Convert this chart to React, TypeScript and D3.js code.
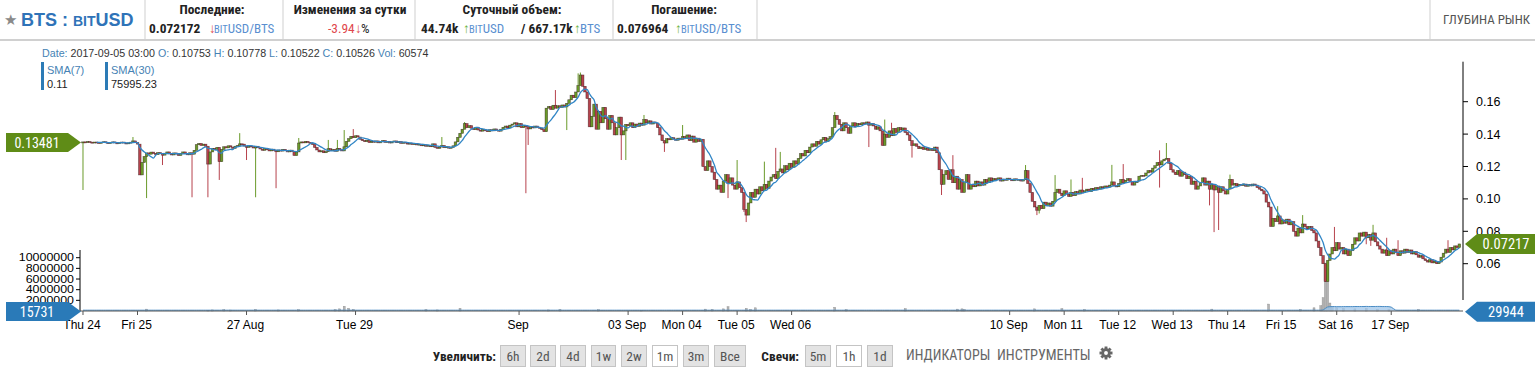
import React from 'react';
import * as d3 from 'd3';

// ---------- DATA (prices in units of 1e-4 BTS price) ----------
const START_UTC = Date.UTC(2017, 7, 24, 0, 0);
const HOUR = 3600 * 1000;

// hourly closes from 2017-08-24 00:00
const CLOSES: number[] = [
  1352,1349,1354,1350,1346,1351,1348,1344,1349,1353,1347,1343,
  1348,1352,1346,1342,1347,1351,1345,1341,1346,1350,1358,1349,
  1338,1148,1225,1262,1284,1276,1289,1281,1273,1286,1279,1270,
  1282,1290,1278,1271,1284,1277,1268,1281,1290,1279,1272,1285,
  1276,1300,1335,1342,1330,1338,1325,1215,1290,1312,1305,1318,
  1230,1305,1322,1315,1328,1320,1312,1325,1330,1340,1338,1326,
  1318,1327,1322,1314,1325,1316,1308,1300,1312,1304,1296,1307,
  1299,1291,1302,1295,1306,1298,1290,1301,1293,1268,1290,1345,
  1352,1346,1355,1349,1343,1336,1318,1302,1290,1297,1285,1292,
  1310,1298,1305,1294,1312,1303,1296,1322,1355,1372,1386,1378,
  1390,1382,1368,1360,1354,1362,1348,1356,1350,1358,1346,1353,
  1360,1349,1355,1345,1352,1358,1347,1354,1343,1350,1345,1338,
  1344,1336,1341,1333,1338,1328,1334,1325,1331,1322,1340,1318,
  1312,1320,1330,1316,1322,1313,1318,1328,1352,1380,1405,1430,
  1465,1440,1452,1436,1428,1440,1425,1418,1430,1421,1415,1427,
  1420,1432,1424,1418,1430,1442,1450,1438,1455,1462,1470,1445,
  1465,1440,1452,1447,1432,1445,1438,1450,1442,1436,1428,1415,
  1560,1570,1552,1578,1560,1575,1565,1580,1568,1590,1612,1640,
  1625,1660,1700,1765,1695,1660,1620,1445,1510,1585,1430,1540,
  1470,1565,1495,1430,1515,1470,1395,1440,1505,1395,1420,1460,
  1452,1470,1440,1462,1448,1468,1455,1490,1470,1482,1462,1475,
  1468,1440,1395,1360,1345,1372,1365,1378,1370,1362,1375,1368,
  1385,1372,1395,1360,1388,1350,1375,1355,1368,1200,1175,1235,
  1200,1165,1120,1060,1085,1040,1110,1150,1095,1130,1085,1060,
  1105,1070,1040,935,900,975,1040,1010,1060,1030,1075,1050,
  1090,1065,1110,1135,1150,1125,1170,1185,1160,1205,1180,1220,
  1195,1235,1215,1250,1280,1265,1300,1285,1320,1340,1325,1355,
  1338,1365,1380,1355,1372,1385,1440,1515,1490,1460,1420,1470,
  1440,1405,1450,1470,1445,1465,1458,1470,1462,1475,1455,1465,
  1450,1430,1445,1420,1330,1400,1380,1420,1390,1435,1410,1440,
  1425,1438,1410,1395,1360,1330,1340,1325,1310,1320,1305,1315,
  1300,1312,1298,1320,1285,1180,1090,1150,1175,1120,1180,1100,
  1140,1060,1120,1040,1100,1150,1060,1090,1075,1110,1080,1105,
  1085,1120,1100,1130,1112,1125,1118,1130,1110,1122,1115,1128,
  1120,1112,1124,1116,1120,1110,1118,1175,1095,1040,985,950,
  930,960,940,980,960,975,955,985,1040,1060,1035,1020,
  1050,1030,1015,1040,1020,1045,1030,1055,1040,1050,1060,1045,
  1065,1055,1070,1060,1075,1068,1080,1072,1085,1105,1080,1075,
  1095,1120,1100,1115,1125,1108,1085,1100,1110,1140,1145,1142,
  1160,1175,1165,1190,1205,1225,1210,1235,1245,1250,1220,1180,
  1165,1150,1175,1140,1165,1150,1125,1140,1090,1110,1060,1080,
  1100,1130,1085,1110,1060,1090,1055,1080,1040,1075,1050,1030,
  1060,1120,1085,1095,1080,1090,1083,1092,1078,1088,1080,1092,
  1085,1070,1060,1050,1030,980,950,830,880,860,895,845,
  870,850,875,840,860,800,770,820,790,845,830,815,
  830,805,790,740,700,650,600,490,620,660,700,680,
  730,690,700,660,690,650,680,720,760,740,790,770,
  795,760,780,745,790,735,710,690,665,685,650,680,
  660,690,670,650,680,665,690,670,685,660,675,655,
  640,650,630,620,610,625,605,615,600,610,640,665,
  690,670,700,685,710,700,722,
];
const FIRST_OPEN = 1350;

// notable upper shadows [hour index, high]
const HIGH_WICKS: [number, number][] = [
  [22,1382],[69,1406],[95,1376],[108,1364],[112,1364],[115,1425],[119,1431],[158,1382],
  [168,1474],[208,1672],[218,1775],[219,1780],[247,1518],[264,1456],[288,1240],[300,1230],
  [305,1315],[307,1290],[331,1536],[353,1490],[356,1470],[383,1270],[415,1209],[428,1147],
  [435,1120],[440,1130],[453,1210],[458,1215],[474,1300],[477,1345],[505,1150],[526,955],
  [537,900],[551,827],[568,840],[574,760],[579,745],[601,745],
];
// notable lower shadows [hour index, low]
const LOW_WICKS: [number, number][] = [
  [0,1055],[28,1005],[35,1209],[48,1010],[55,1010],[60,1117],[72,1240],[76,1010],[85,1066],
  [195,1035],[196,1333],[213,1425],[237,1240],[239,1240],[256,1290],[284,1005],[291,920],
  [292,857],[346,1320],[365,1255],[378,1024],[420,900],[421,910],[474,1070],[496,960],
  [498,795],[500,808],[547,487],[565,720],[567,710],[568,750],
];
// visible hourly volumes [hour index, volume]
const VOLUMES: [number, number][] = [
  [28,350000],[55,150000],[57,200000],[62,250000],[65,180000],[76,300000],[86,200000],[95,250000],
  [111,250000],[113,400000],[115,900000],[117,500000],[119,300000],[151,250000],[156,200000],
  [166,500000],[205,200000],[210,300000],[227,250000],[246,150000],[274,350000],[277,300000],
  [282,400000],[284,800000],[292,500000],[294,300000],[296,600000],[331,700000],[336,250000],
  [362,450000],[385,350000],[387,400000],[388,300000],[419,400000],[431,450000],[441,300000],
  [497,350000],[522,1300000],[536,300000],[542,600000],[545,1000000],[546,2500000],[547,9000000],
  [548,8000000],[549,1500000],[550,800000],[552,600000],[555,500000],[560,400000],[565,500000],
  [570,300000],[575,250000],[588,300000],
];

const X_TICKS: { day: [number, number]; label: string }[] = [
  { day: [7, 24], label: 'Thu 24' }, { day: [7, 25], label: 'Fri 25' }, { day: [7, 27], label: '27 Aug' },
  { day: [7, 29], label: 'Tue 29' }, { day: [8, 1], label: 'Sep' }, { day: [8, 3], label: '03 Sep' },
  { day: [8, 4], label: 'Mon 04' }, { day: [8, 5], label: 'Tue 05' }, { day: [8, 6], label: 'Wed 06' },
  { day: [8, 10], label: '10 Sep' }, { day: [8, 11], label: 'Mon 11' }, { day: [8, 12], label: 'Tue 12' },
  { day: [8, 13], label: 'Wed 13' }, { day: [8, 14], label: 'Thu 14' }, { day: [8, 15], label: 'Fri 15' },
  { day: [8, 16], label: 'Sat 16' }, { day: [8, 17], label: '17 Sep' },
];
const PRICE_TICKS = [0.06, 0.08, 0.1, 0.12, 0.14, 0.16];
const VOL_TICKS = [2000000, 4000000, 6000000, 8000000, 10000000];

const ZOOM_BUTTONS = ['6h', '2d', '4d', '1w', '2w', '1m', '3m', 'Все'];
const ZOOM_ACTIVE = '1m';
const CANDLE_BUTTONS = ['5m', '1h', '1d'];
const CANDLE_ACTIVE = '1h';

// ---------- COMPONENT ----------
const W = 1535, H = 375;
const NARROW = "'Liberation Sans Narrow', 'Arial Narrow', 'Roboto Condensed', 'Liberation Sans', sans-serif";
const SANS = "'Liberation Sans', Arial, sans-serif";
const UP = '#6a9a2a', DOWN = '#b7434d';
const GREEN_LBL = '#5f8c17', BLUE_LBL = '#2a7ab8';

function Gear({ cx, cy, r }: { cx: number; cy: number; r: number }) {
  const teeth = d3.range(8).map((k) => (
    <rect key={k} x={cx - r * 0.22} y={cy - r * 1.0} width={r * 0.44} height={r * 0.5}
      transform={`rotate(${k * 45} ${cx} ${cy})`} fill="#666" />
  ));
  return (
    <g>
      {teeth}
      <circle cx={cx} cy={cy} r={r * 0.72} fill="#666" />
      <circle cx={cx} cy={cy} r={r * 0.3} fill="#fff" />
    </g>
  );
}

export default function App() {
  const hw = new Map(HIGH_WICKS), lw = new Map(LOW_WICKS);
  const candles = CLOSES.map((c, i) => {
    const o = (i === 0 ? FIRST_OPEN : CLOSES[i - 1]) / 1e4;
    const cl = c / 1e4;
    const hi = Math.max(o, cl, (hw.get(i) ?? 0) / 1e4);
    const lo = Math.min(o, cl, lw.has(i) ? lw.get(i)! / 1e4 : 9);
    return { t: new Date(START_UTC + i * HOUR), o, c: cl, h: hi, l: lo };
  });
  const volMap = new Map(VOLUMES);
  const vols = candles.map((d, i) => ({ t: d.t, v: volMap.get(i) ?? 0 }));

  const x = d3.scaleUtc()
    .domain([new Date(START_UTC - 1.32 * HOUR), new Date(START_UTC + 607.6 * HOUR)])
    .range([80, 1463]);
  const y = d3.scaleLinear().domain([0.06, 0.16]).range([263.7, 101.7]);
  const yv = d3.scaleLinear().domain([0, 10000000]).range([311, 257.7]);

  const sma7 = candles.map((d, i) => {
    if (i < 6) return null;
    return { t: d.t, v: d3.mean(candles.slice(i - 6, i + 1), (e) => e.c)! };
  }).filter(Boolean) as { t: Date; v: number }[];
  const vsma = vols.map((d, i) => ({ t: d.t, v: d3.mean(vols.slice(Math.max(0, i - 29), i + 1), (e) => e.v)! }));

  const smaLine = d3.line<{ t: Date; v: number }>().x((d) => x(d.t)).y((d) => y(d.v)).curve(d3.curveMonotoneX);
  const vArea = d3.area<{ t: Date; v: number }>().x((d) => x(d.t)).y0(yv(0)).y1((d) => Math.min(yv(d.v), 310.2));
  const vLine = d3.line<{ t: Date; v: number }>().x((d) => x(d.t)).y((d) => Math.min(yv(d.v), 310.2));

  const bw = 2.6;

  const sepXs = [145, 283, 415, 613, 757, 1430];
  const zoomBtnX = [500, 530, 560, 591, 621, 652, 683, 714];
  const zoomBtnW = [25, 25, 25, 24, 25, 25, 25, 31];
  const candleBtnX = [805, 836, 867];

  const leftLabel = (yc: number, text: string, color: string) => (
    <g>
      <path d={`M6,${yc - 9.5} H68 L81,${yc} L68,${yc + 9.5} H6 Z`} fill={color} />
      <text x={37} y={yc + 5} textAnchor="middle" fill="#fff" fontSize={14} fontFamily={NARROW}>{text}</text>
    </g>
  );
  const rightLabel = (yc: number, text: string, color: string) => (
    <g>
      <path d={`M1465,${yc} L1477,${yc - 10} H1535 V${yc + 10} H1477 Z`} fill={color} />
      <text x={1506} y={yc + 5} textAnchor="middle" fill="#fff" fontSize={14.5} fontFamily={NARROW}>{text}</text>
    </g>
  );

  return (
    <svg width={W} height={H} style={{ position: 'absolute', left: 0, top: 0, background: '#fff' }}>
      <defs>
        <clipPath id="plot"><rect x={80} y={60} width={1383} height={252} /></clipPath>
      </defs>

      {/* ---------- header ---------- */}
      <line x1={0} x2={W} y1={40} y2={40} stroke="#d0d0d0" strokeWidth={2} />
      {sepXs.map((sx) => <line key={sx} x1={sx} x2={sx} y1={0} y2={39} stroke="#cfcfcf" />)}
      <text x={4} y={25} fontSize={15} fill="#8a8a8a" fontFamily={SANS}>★</text>
      <text x={21} y={26} fontSize={18} fontWeight="bold" fill="#2f73b8" fontFamily={SANS}>
        BTS : <tspan fontSize={14}>BIT</tspan>USD
      </text>
      <g fontFamily={NARROW} fontSize={13.4}>
        <text x={212} y={14} textAnchor="middle" fontWeight="bold" fill="#222">Последние:</text>
        <text x={149} y={33} fontWeight="bold" fill="#222">0.072172</text>
        <text x={209} y={33} fill="#e0474c">↓</text>
        <text x={214} y={33} fill="#5a8fd0" fontSize={13}><tspan fontSize={10.5}>BIT</tspan>USD/BTS</text>

        <text x={350} y={14} textAnchor="middle" fontWeight="bold" fill="#222">Изменения за сутки</text>
        <text x={328} y={33} fill="#e0474c">-3.94</text>
        <text x={355} y={33} fill="#e0474c">↓</text>
        <text x={361} y={33} fill="#222">%</text>

        <text x={512} y={14} textAnchor="middle" fontWeight="bold" fill="#222">Суточный объем:</text>
        <text x={421} y={33} fontWeight="bold" fill="#222">44.74k</text>
        <text x={463} y={33} fill="#6cb33e">↑</text>
        <text x={469} y={33} fill="#5a8fd0" fontSize={13}><tspan fontSize={10.5}>BIT</tspan>USD</text>
        <text x={521} y={33} fontWeight="bold" fill="#222">/ 667.17k</text>
        <text x={574} y={33} fill="#6cb33e">↑</text>
        <text x={580} y={33} fill="#5a8fd0" fontSize={13}>BTS</text>

        <text x={684} y={14} textAnchor="middle" fontWeight="bold" fill="#222">Погашение:</text>
        <text x={617} y={33} fontWeight="bold" fill="#222">0.076964</text>
        <text x={675} y={33} fill="#6cb33e">↑</text>
        <text x={681} y={33} fill="#5a8fd0" fontSize={13}><tspan fontSize={10.5}>BIT</tspan>USD/BTS</text>

        <text x={1443} y={24} fill="#555" fontSize={13}>ГЛУБИНА РЫНК</text>
      </g>

      {/* ---------- legend ---------- */}
      <text x={42} y={57} fontSize={10.7} fontFamily={SANS} fill="#333">
        <tspan fill="#4682b4">Date: </tspan>2017-09-05 03:00 <tspan fill="#4682b4">O: </tspan>0.10753{' '}
        <tspan fill="#4682b4">H: </tspan>0.10778 <tspan fill="#4682b4">L: </tspan>0.10522{' '}
        <tspan fill="#4682b4">C: </tspan>0.10526 <tspan fill="#4682b4">Vol: </tspan>60574
      </text>
      <rect x={41} y={62} width={3} height={28} fill="#2c7bb6" />
      <text x={47} y={74} fontSize={11} fontFamily={SANS} fill="#4682b4">SMA(7)</text>
      <text x={47} y={88} fontSize={11} fontFamily={SANS} fill="#222">0.11</text>
      <rect x={105} y={62} width={3} height={28} fill="#2c7bb6" />
      <text x={111} y={74} fontSize={11} fontFamily={SANS} fill="#4682b4">SMA(30)</text>
      <text x={111} y={88} fontSize={11} fontFamily={SANS} fill="#222">75995.23</text>

      {/* ---------- volume ---------- */}
      <g clipPath="url(#plot)">
        {vols.filter((d) => d.v > 0).map((d, i) => (
          <rect key={i} x={x(d.t) - 1} y={yv(d.v)} width={2} height={yv(0) - yv(d.v)} fill="#b4b4b4" stroke="#8e8e8e" strokeWidth={0.4} />
        ))}
        <path d={vArea(vsma) ?? ''} fill="#9fc6ea" fillOpacity={0.75} />
        <path d={vLine(vsma) ?? ''} fill="none" stroke="#4a8cc4" strokeWidth={1} />
      </g>

      {/* ---------- candles ---------- */}
      <g clipPath="url(#plot)">
        {candles.map((d, i) => {
          const cx = x(d.t);
          const up = d.c >= d.o;
          const col = up ? UP : DOWN;
          const top = y(Math.max(d.o, d.c));
          const bh = Math.max(1, y(Math.min(d.o, d.c)) - top);
          return (
            <g key={i}>
              <line x1={cx} x2={cx} y1={y(d.h)} y2={y(d.l)} stroke={col} strokeWidth={1} />
              <rect x={cx - bw / 2} y={top} width={bw} height={bh} fill={col} stroke="rgba(40,20,20,0.6)" strokeWidth={0.6} />
            </g>
          );
        })}
        <path d={smaLine(sma7) ?? ''} fill="none" stroke="#3186c6" strokeWidth={1.3} />
      </g>

      {/* ---------- right price axis ---------- */}
      <line x1={1463} x2={1463} y1={61.7} y2={300} stroke="#000" />
      {PRICE_TICKS.map((t) => (
        <g key={t}>
          <line x1={1463} x2={1468} y1={y(t)} y2={y(t)} stroke="#000" />
          <text x={1476} y={y(t) + 4.5} fontSize={12.5} fontFamily={SANS} fill="#000">{t.toFixed(2)}</text>
        </g>
      ))}

      {/* ---------- volume axis ---------- */}
      <line x1={80} x2={80} y1={250} y2={311} stroke="#000" />
      {VOL_TICKS.map((t) => (
        <g key={t}>
          <line x1={76} x2={80} y1={yv(t)} y2={yv(t)} stroke="#000" />
          <text x={74} y={yv(t) + 3.6} textAnchor="end" fontSize={10} fontFamily={SANS} fill="#000"
            textLength={String(t).length * 6.9} lengthAdjust="spacingAndGlyphs">{t}</text>
        </g>
      ))}

      {/* ---------- time axis ---------- */}
      <line x1={80} x2={1463} y1={311} y2={311} stroke="#555" />
      {X_TICKS.map((tk) => {
        const tx = x(new Date(Date.UTC(2017, tk.day[0], tk.day[1])));
        return (
          <g key={tk.label}>
            <line x1={tx} x2={tx} y1={311} y2={315} stroke="#555" />
            <text x={tx - 1} y={329} textAnchor="middle" fontSize={12} fontFamily={SANS} fill="#000">{tk.label}</text>
          </g>
        );
      })}

      {/* ---------- edge labels ---------- */}
      {leftLabel(y(0.13481), '0.13481', GREEN_LBL)}
      {leftLabel(311.5, '15731', BLUE_LBL)}
      {rightLabel(y(0.07217), '0.07217', GREEN_LBL)}
      {rightLabel(311.7, '29944', BLUE_LBL)}

      {/* ---------- controls ---------- */}
      <g fontFamily={NARROW} fontSize={13.4}>
        <text x={496} y={361} textAnchor="end" fontWeight="bold" fill="#222">Увеличить:</text>
        {ZOOM_BUTTONS.map((b, i) => (
          <g key={b}>
            <rect x={zoomBtnX[i] + 0.5} y={345.5} width={zoomBtnW[i]} height={21} fill={b === ZOOM_ACTIVE ? '#fff' : '#e3e3e3'} stroke="#c4c4c4" />
            <text x={zoomBtnX[i] + zoomBtnW[i] / 2 + 0.5} y={361} textAnchor="middle" fill="#555">{b}</text>
          </g>
        ))}
        <text x={799} y={361} textAnchor="end" fontWeight="bold" fill="#222">Свечи:</text>
        {CANDLE_BUTTONS.map((b, i) => (
          <g key={b}>
            <rect x={candleBtnX[i] + 0.5} y={345.5} width={25} height={21} fill={b === CANDLE_ACTIVE ? '#fff' : '#e3e3e3'} stroke="#c4c4c4" />
            <text x={candleBtnX[i] + 13} y={361} textAnchor="middle" fill="#555">{b}</text>
          </g>
        ))}
        <text x={906} y={360} fill="#666" fontSize={14}>ИНДИКАТОРЫ</text>
        <text x={997} y={360} fill="#666" fontSize={14.3}>ИНСТРУМЕНТЫ</text>
      </g>
      <Gear cx={1106} cy={353} r={6.5} />
    </svg>
  );
}
